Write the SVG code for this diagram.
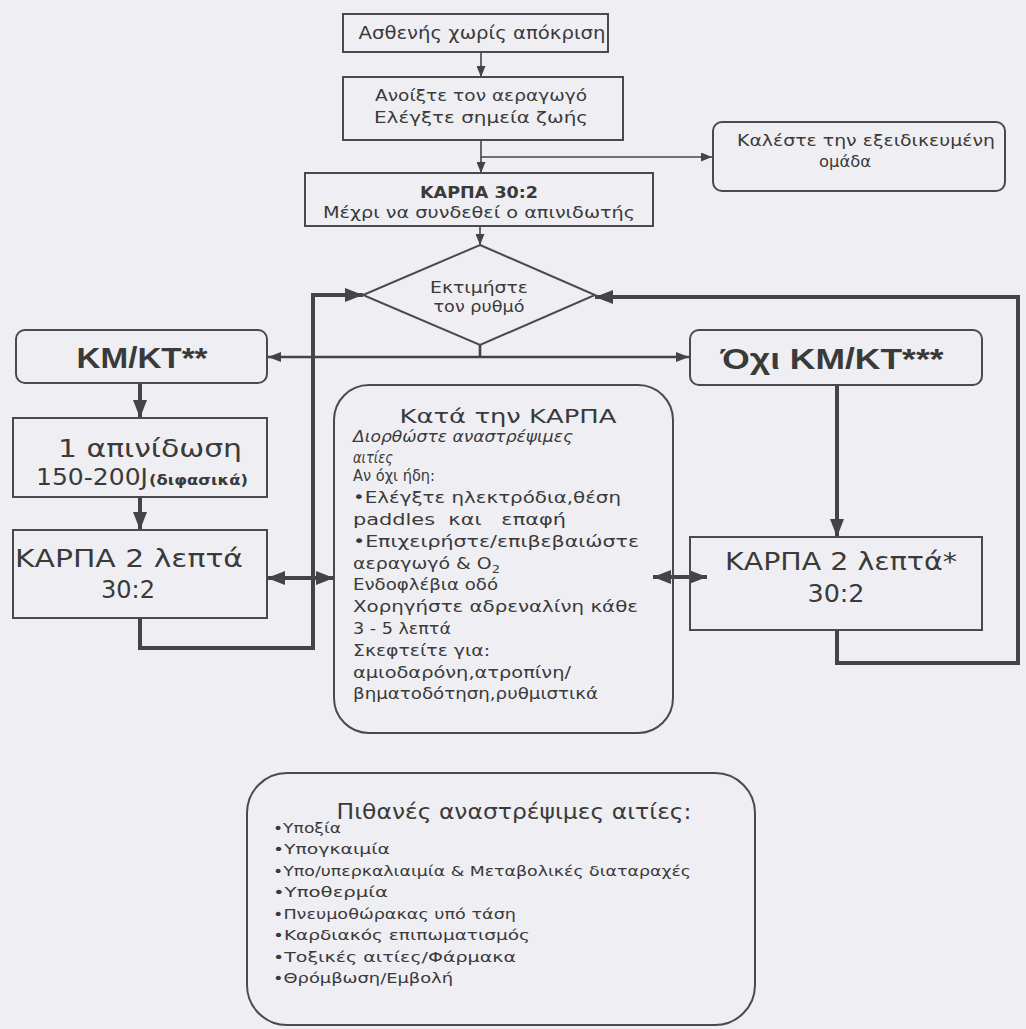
<svg xmlns="http://www.w3.org/2000/svg" width="1026" height="1029" viewBox="0 0 1026 1029">
<style>
.bg{fill:#efeff3}
.box{fill:none;stroke:#4a4a4a;stroke-width:2}
.t{font-family:"DejaVu Sans","Noto Sans",sans-serif;fill:#3a3a3a}
.b{font-family:"Liberation Sans",Arial,sans-serif;font-weight:bold;fill:#3a3a3a}
.c{text-anchor:middle}
.i{font-style:italic}
.thin{fill:none;stroke:#444;stroke-width:1.6}
.mid{fill:none;stroke:#444;stroke-width:2.6}
.thick{fill:none;stroke:#444;stroke-width:4}
</style>
<defs>
<marker id="a" markerUnits="userSpaceOnUse" markerWidth="11" markerHeight="9" refX="11" refY="4.5" orient="auto-start-reverse"><path d="M0,0 L11,4.5 L0,9 z" fill="#444"/></marker>
<marker id="m" markerUnits="userSpaceOnUse" markerWidth="13" markerHeight="10" refX="13" refY="5" orient="auto-start-reverse"><path d="M0,0 L13,5 L0,10 z" fill="#444"/></marker>
<marker id="A" markerUnits="userSpaceOnUse" markerWidth="18" markerHeight="14" refX="18" refY="7" orient="auto-start-reverse"><path d="M0,0 L18,7 L0,14 z" fill="#444"/></marker>
</defs>
<rect class="bg" x="0" y="0" width="1026" height="1029"/>

<g id="connectors">
<line class="thin" x1="481" y1="52" x2="481" y2="77" marker-end="url(#a)"/>
<line class="thin" x1="481" y1="140" x2="481" y2="173" marker-end="url(#a)"/>
<path class="thin" d="M481,157 H712" marker-end="url(#a)"/>
<line class="thin" x1="480" y1="226" x2="480" y2="245" marker-end="url(#a)"/>
<path class="mid" d="M480,345 V357"/>
<line class="mid" x1="268" y1="357" x2="689" y2="357" marker-start="url(#m)" marker-end="url(#m)"/>
<path class="thick" d="M140,618 V648 H313 V295 H363" marker-end="url(#A)"/>
<path class="thick" d="M837,630 V663 H1018 V297 H595" marker-end="url(#A)"/>
<path class="thick" d="M140,383 V418" marker-end="url(#A)"/>
<path class="thick" d="M140,497 V530" marker-end="url(#A)"/>
<path class="thick" d="M837,385 V537" marker-end="url(#A)"/>
<line class="thick" x1="267" y1="578" x2="334" y2="578" marker-start="url(#A)" marker-end="url(#A)"/>
<line class="thick" x1="653" y1="577" x2="707" y2="577" marker-start="url(#A)" marker-end="url(#A)"/>
</g>

<g id="n1">
<rect class="box" x="343" y="14" width="265" height="38"/>
<text class="t c" x="482" y="39" font-size="18" textLength="247" lengthAdjust="spacingAndGlyphs">Ασθενής χωρίς απόκριση</text>
</g>
<g id="n2">
<rect class="box" x="343" y="77" width="280" height="63"/>
<text class="t c" x="481" y="101" font-size="16.5" textLength="212" lengthAdjust="spacingAndGlyphs">Ανοίξτε τον αεραγωγό</text>
<text class="t c" x="481" y="123" font-size="16.5" textLength="214" lengthAdjust="spacingAndGlyphs">Ελέγξτε σημεία ζωής</text>
</g>
<g id="n3">
<rect class="box" x="305" y="173" width="348" height="53"/>
<text class="t c" x="479" y="198" font-size="15" font-weight="bold" textLength="118" lengthAdjust="spacingAndGlyphs">ΚΑΡΠΑ 30:2</text>
<text class="t c" x="479" y="218" font-size="16" textLength="312" lengthAdjust="spacingAndGlyphs">Μέχρι να συνδεθεί ο απινιδωτής</text>
</g>
<g id="n4">
<rect class="box" x="713" y="122" width="292" height="69" rx="9"/>
<text class="t c" x="866" y="146" font-size="15.5" textLength="258" lengthAdjust="spacingAndGlyphs">Καλέστε την εξειδικευμένη</text>
<text class="t c" x="845" y="167" font-size="16" textLength="52" lengthAdjust="spacingAndGlyphs">ομάδα</text>
</g>
<g id="n5">
<polygon class="box" points="480,245 595,295 480,345 363,295"/>
<text class="t c" x="479" y="293" font-size="15" textLength="98" lengthAdjust="spacingAndGlyphs">Εκτιμήστε</text>
<text class="t c" x="479" y="312" font-size="15" textLength="91" lengthAdjust="spacingAndGlyphs">τον ρυθμό</text>
</g>
<g id="n6">
<rect class="box" x="16" y="330" width="251" height="53" rx="9"/>
<text class="b c" x="142" y="368" font-size="29" textLength="131" lengthAdjust="spacingAndGlyphs">KM/KT**</text>
</g>
<g id="n7">
<rect class="box" x="690" y="330" width="292" height="55" rx="9"/>
<text class="b c" x="832" y="369" font-size="29" textLength="223" lengthAdjust="spacingAndGlyphs">Όχι ΚΜ/ΚΤ***</text>
</g>
<g id="n8">
<rect class="box" x="13" y="418" width="254" height="79"/>
<text class="t c" x="150" y="457" font-size="24" textLength="184" lengthAdjust="spacingAndGlyphs">1 απινίδωση</text>
<text class="t" x="36" y="485" font-size="23" textLength="112" lengthAdjust="spacingAndGlyphs">150-200J</text>
<text class="t" x="149" y="485" font-size="14" font-weight="bold" textLength="99" lengthAdjust="spacingAndGlyphs">(διφασικά)</text>
</g>
<g id="n9">
<rect class="box" x="13" y="530" width="254" height="88"/>
<text class="t c" x="129" y="567" font-size="24" textLength="228" lengthAdjust="spacingAndGlyphs">ΚΑΡΠΑ 2 λεπτά</text>
<text class="t c" x="128" y="598" font-size="24" textLength="54" lengthAdjust="spacingAndGlyphs">30:2</text>
</g>
<g id="n10">
<rect class="box" x="334" y="385" width="339" height="348" rx="35"/>
<text class="t c" x="508" y="423" font-size="20" textLength="217" lengthAdjust="spacingAndGlyphs">Κατά την ΚΑΡΠΑ</text>
<text class="t i" x="353" y="442" font-size="16" textLength="220" lengthAdjust="spacingAndGlyphs">Διορθώστε αναστρέψιμες</text>
<text class="t i" x="353" y="463" font-size="16" textLength="40" lengthAdjust="spacingAndGlyphs">αιτίες</text>
<text class="t" x="353" y="481" font-size="16" textLength="82" lengthAdjust="spacingAndGlyphs">Αν όχι ήδη:</text>
<text class="t" x="353" y="503" font-size="16" textLength="268" lengthAdjust="spacingAndGlyphs">•Ελέγξτε ηλεκτρόδια,θέση</text>
<text class="t" x="353" y="525" font-size="16" textLength="213" lengthAdjust="spacingAndGlyphs" xml:space="preserve">paddles  και   επαφή</text>
<text class="t" x="353" y="547" font-size="16" textLength="286" lengthAdjust="spacingAndGlyphs">•Επιχειρήστε/επιβεβαιώστε</text>
<text class="t" x="353" y="569" font-size="16" textLength="147" lengthAdjust="spacingAndGlyphs">αεραγωγό &amp; O<tspan font-size="11" dy="4">2</tspan></text>
<text class="t" x="353" y="590" font-size="16" textLength="145" lengthAdjust="spacingAndGlyphs">Ενδοφλέβια οδό</text>
<text class="t" x="353" y="612" font-size="16" textLength="285" lengthAdjust="spacingAndGlyphs">Χορηγήστε αδρεναλίνη κάθε</text>
<text class="t" x="353" y="634" font-size="16" textLength="98" lengthAdjust="spacingAndGlyphs">3 - 5 λεπτά</text>
<text class="t" x="353" y="656" font-size="16" textLength="137" lengthAdjust="spacingAndGlyphs">Σκεφτείτε για:</text>
<text class="t" x="353" y="678" font-size="16" textLength="218" lengthAdjust="spacingAndGlyphs">αμιοδαρόνη,ατροπίνη/</text>
<text class="t" x="353" y="699" font-size="16" textLength="245" lengthAdjust="spacingAndGlyphs">βηματοδότηση,ρυθμιστικά</text>
</g>
<g id="n11">
<rect class="box" x="690" y="537" width="292" height="93"/>
<text class="t c" x="841" y="570" font-size="24" textLength="232" lengthAdjust="spacingAndGlyphs">ΚΑΡΠΑ 2 λεπτά*</text>
<text class="t c" x="836" y="602" font-size="24" textLength="57" lengthAdjust="spacingAndGlyphs">30:2</text>
</g>
<g id="n12">
<rect class="box" x="247" y="773" width="508" height="252" rx="40"/>
<text class="t c" x="514" y="819" font-size="21" textLength="355" lengthAdjust="spacingAndGlyphs">Πιθανές αναστρέψιμες αιτίες:</text>
<text class="t" x="273" y="833" font-size="14" textLength="68" lengthAdjust="spacingAndGlyphs">•Υποξία</text>
<text class="t" x="273" y="854" font-size="14" textLength="117" lengthAdjust="spacingAndGlyphs">•Υπογκαιμία</text>
<text class="t" x="273" y="876" font-size="14" textLength="418" lengthAdjust="spacingAndGlyphs">•Υπο/υπερκαλιαιμία &amp; Μεταβολικές διαταραχές</text>
<text class="t" x="273" y="897" font-size="14" textLength="115" lengthAdjust="spacingAndGlyphs">•Υποθερμία</text>
<text class="t" x="273" y="919" font-size="14" textLength="243" lengthAdjust="spacingAndGlyphs">•Πνευμοθώρακας υπό τάση</text>
<text class="t" x="273" y="940" font-size="14" textLength="257" lengthAdjust="spacingAndGlyphs">•Καρδιακός επιπωματισμός</text>
<text class="t" x="273" y="962" font-size="14" textLength="243" lengthAdjust="spacingAndGlyphs">•Τοξικές αιτίες/Φάρμακα</text>
<text class="t" x="273" y="983" font-size="14" textLength="180" lengthAdjust="spacingAndGlyphs">•Θρόμβωση/Εμβολή</text>
</g>
</svg>
